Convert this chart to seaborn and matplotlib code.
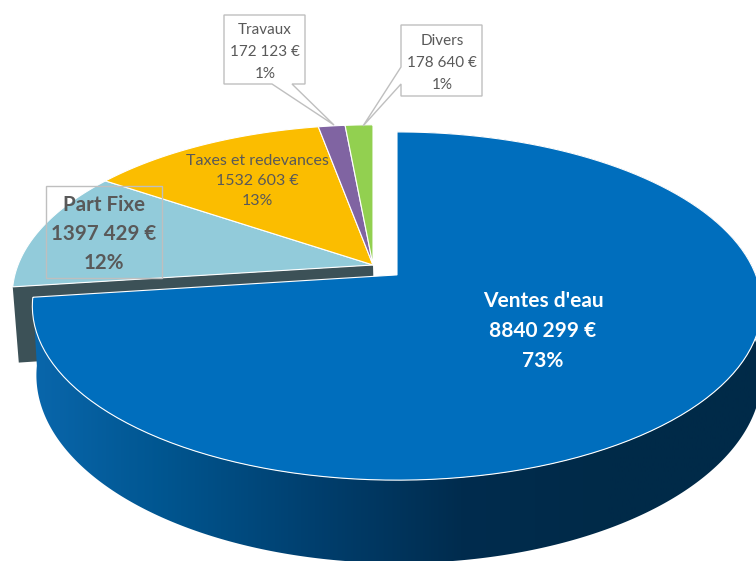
import numpy as np
import seaborn as sns
import matplotlib
matplotlib.use('Agg')
import matplotlib.pyplot as plt
from matplotlib.colors import LinearSegmentedColormap
from matplotlib.patches import Polygon, Rectangle
from matplotlib.path import Path
from matplotlib.transforms import Transform

# Data
names = ['Ventes d\'eau', 'Part Fixe', 'Taxes et redevances', 'Travaux', 'Divers']
values = [8840299, 1397429, 1532603, 172123, 178640]
amounts = ['8840 299 €', '1397 429 €', '1532 603 €', '172 123 €', '178 640 €']
percents = ['73%', '12%', '13%', '1%', '1%']
explode = [0.09, 0, 0, 0, 0]

colors = sns.color_palette(['#006EBD', '#92CBDA', '#FBBD00', '#8064A2', '#92D050'])
wall_color = '#3C5157'
side_colors = ['#0A68AE', '#00558F', '#003F6E', '#002C4E', '#002A48', '#002A48']
text_color = '#595959'
box_color = '#BFBFBF'


# Projects the flat pie onto the tilted plane, in picture pixels
class Tilt(Transform):
    input_dims = 2
    output_dims = 2

    def __init__(self, cx, cy, k, m, p, x0=0):
        super().__init__()
        self.cx, self.cy, self.k, self.m, self.p, self.x0 = cx, cy, k, m, p, x0

    def transform_non_affine(self, xy):
        xy = np.asarray(xy, dtype=float)
        w = 1 + self.p * xy[:, 1]
        return np.c_[self.cx + self.k * (xy[:, 0] - self.x0) / w, self.cy - self.m * xy[:, 1] / w]

    def transform_path_non_affine(self, path):
        # flatten the arcs first so the curve stays right after projecting
        big = Path(path.vertices * 1000, path.codes)
        poly = big.to_polygons(closed_only=False)[0] / 1000
        return Path(self.transform_non_affine(poly))


def arc(wedge):
    th = np.radians(np.linspace(wedge.theta1, wedge.theta2, 400))
    return np.c_[wedge.center[0] + wedge.r * np.cos(th), wedge.center[1] + wedge.r * np.sin(th)]


sns.set_theme(style='white')
plt.rcParams['font.family'] = ['Lato', 'DejaVu Sans']

fig = plt.figure(figsize=(7.56, 5.61), dpi=100)
ax = fig.add_axes([0, 0, 1, 1])

wedges, _ = ax.pie(values, colors=colors, explode=explode, startangle=90, counterclock=False,
                   radius=1, wedgeprops={'edgecolor': 'white', 'linewidth': 0.8})

# The big slice keeps its straight edge vertical, so it gets its own pivot
pivot = wedges[0].center[0]
top = Tilt(373, 265, 355, 165, 0.177)
top_blue = Tilt(397, 265, 355, 165, 0.177, pivot)
bottom_blue = Tilt(399, 331, 353, 178, 0.177, pivot)
bottom_wall = Tilt(375, 339, 351, 178, 0.177)

for w in wedges[1:]:
    w.set_transform(top + ax.transData)
    w.set_zorder(2)
wedges[0].set_transform(top_blue + ax.transData)
wedges[0].set_zorder(4)

# Cut face of the Part Fixe slice, seen under the exploded slice
cut_angle = np.radians(wedges[1].theta2)
cut = np.array([[0, 0], [np.cos(cut_angle), np.sin(cut_angle)]])
wall = np.vstack([top.transform(cut), bottom_wall.transform(cut)[::-1]])
ax.add_patch(Polygon(wall, closed=True, facecolor=wall_color, edgecolor='none', zorder=1))

# Outer side of the blue slice with its left to right shading
rim = arc(wedges[0])
side = Polygon(np.vstack([top_blue.transform(rim), bottom_blue.transform(rim)[::-1]]), closed=True,
               facecolor='none', edgecolor='none', transform=ax.transData)
ax.add_patch(side)
cmap = LinearSegmentedColormap.from_list('side', side_colors)
shade = ax.imshow(np.linspace(0, 1, 256).reshape(1, -1), cmap=cmap, aspect='auto',
                  extent=(20, 756, 561, 0), zorder=3)
shade.set_clip_path(side)

ax.set_xlim(0, 756)
ax.set_ylim(561, 0)
ax.set_aspect('auto')
ax.axis('off')

# Callouts
travaux_box = [(224, 15), (305, 15), (305, 84), (292, 84), (334, 125), (272, 84), (224, 84)]
divers_box = [(401, 25), (482, 25), (482, 96), (401, 96), (401, 84), (363, 126), (401, 67)]
for box in (travaux_box, divers_box):
    ax.add_patch(Polygon(box, closed=True, facecolor='white', edgecolor=box_color, linewidth=1, zorder=5))
ax.add_patch(Rectangle((46, 186), 116, 92, facecolor='none', edgecolor=box_color, linewidth=1, zorder=5))


def label(i, x, y, size, color, weight='normal', spacing=1.2):
    ax.text(x, y, f'{names[i]}\n{amounts[i]}\n{percents[i]}', ha='center', va='center', fontsize=size,
            color=color, fontweight=weight, linespacing=spacing, zorder=6)


label(0, 543, 331, 15, 'white', 'bold', 1.6)
label(1, 104, 234, 14.8, text_color, 'bold', 1.58)
label(2, 257, 181, 11.5, text_color, spacing=1.55)
label(3, 265, 52, 11, text_color, spacing=1.72)
label(4, 442, 63, 11, text_color, spacing=1.72)

fig.savefig('out.png', dpi=100)
